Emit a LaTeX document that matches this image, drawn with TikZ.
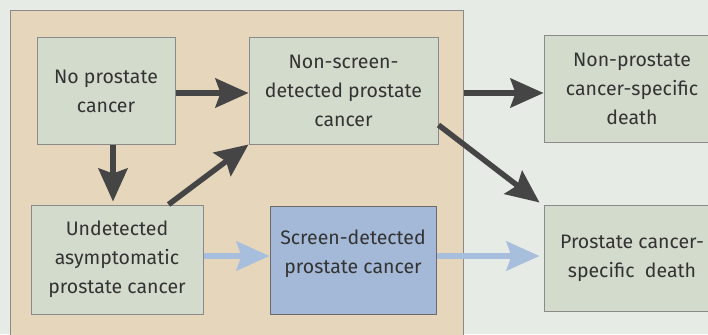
\documentclass[tikz,border=0pt]{standalone}
\usepackage{fontspec}
\setmainfont{Fira Sans}
\usetikzlibrary{arrows.meta,calc}
\definecolor{bg}{HTML}{E6EBE5}
\definecolor{tan}{HTML}{E5D6BC}
\definecolor{boxgreen}{HTML}{D3DBCC}
\definecolor{boxblue}{HTML}{A4B9D8}
\definecolor{arrblue}{HTML}{A8BEDD}
\definecolor{arrdark}{HTML}{454545}
\definecolor{txt}{HTML}{333333}
\definecolor{edge}{HTML}{8A8A8A}
\tikzset{
  statebox/.style={draw=edge, line width=1pt, fill=boxgreen, text=txt, align=center,
    inner sep=0pt, font=\fontsize{19.5}{29}\selectfont},
  bluebox/.style={statebox, fill=boxblue, draw=arrdark!80},
  darkarrow/.style={draw=arrdark, line width=5.5pt, -{Stealth[length=33pt,width=29pt,inset=5pt]}},
  bluearrow/.style={draw=arrblue, line width=5.5pt, -{Stealth[length=33pt,width=29pt,inset=5pt]}},
}
\begin{document}
\begin{tikzpicture}[x=1pt,y=-1pt]
\useasboundingbox (0,0) rectangle (708,334);
\clip (0,0) rectangle (708,334);
\fill[bg] (0,0) rectangle (708,334);
\node[draw=edge, line width=1pt, fill=tan, minimum width=453pt, minimum height=340pt, inner sep=0pt] (tan) at (236.5,181) {};
\node[statebox, minimum width=138pt, minimum height=106pt] (np) at (106,91) {No prostate\\cancer};
\node[statebox, minimum width=189pt, minimum height=106pt] (ns) at (343.5,91) {Non-screen-\\detected prostate\\cancer};
\node[statebox, minimum width=172pt, minimum height=109pt] (ud) at (117,259.5) {Undetected\\asymptomatic\\prostate cancer};
\node[bluebox, minimum width=166pt, minimum height=108pt] (sd) at (353,260) {Screen-detected\\prostate cancer\\[-12pt]\mbox{}};
\node[statebox, minimum width=176pt, minimum height=106pt] (nd) at (632,89) {Non-prostate\\cancer-specific\\death};
\node[statebox, minimum width=176pt, minimum height=106pt] (pd) at (632,258) {Prostate cancer-\\specific\ \ death};
\draw[darkarrow] (np.east |- 0,93) -- (ns.west |- 0,93);
\draw[darkarrow] (tan.east |- 0,93) -- (nd.west |- 0,93);
\draw[darkarrow] ([xshift=7pt]np.south) -- ([xshift=7pt,yshift=3pt]np.south |- ud.north);
\draw[darkarrow] ([xshift=-35pt]ud.north east) -- (ns.south west);
\draw[darkarrow] ([yshift=-34pt]ns.east) -- ([shift={(-4pt,2pt)}]pd.north west);
\draw[bluearrow] (ud.east |- 0,256) -- (sd.west |- 0,256);
\draw[bluearrow] (sd.east |- 0,256) -- ([xshift=-4pt]pd.west |- 0,256);
\end{tikzpicture}
\end{document}
